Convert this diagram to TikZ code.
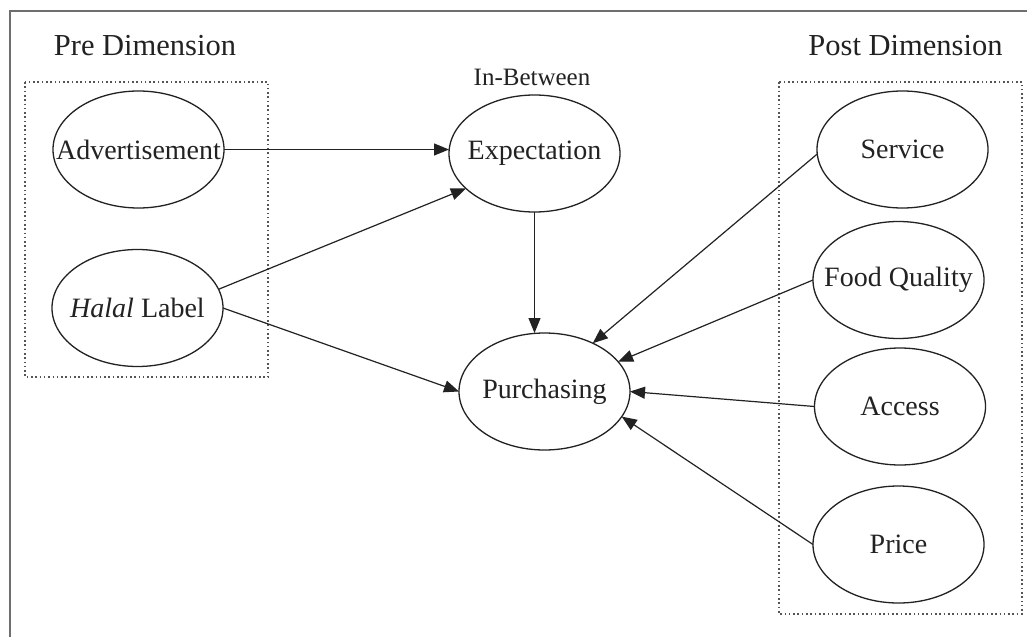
\documentclass[tikz,border=0pt]{standalone}
\usepackage{fontspec}
\setmainfont{Liberation Serif}
\usetikzlibrary{shapes.geometric,arrows.meta}
\definecolor{ink}{HTML}{222222}
\definecolor{framegray}{HTML}{6E6E6E}
\definecolor{dotgray}{HTML}{555555}
\tikzset{
  ell/.style={draw=ink, line width=1.3pt, ellipse, minimum width=171pt, minimum height=117pt, inner sep=0pt, outer sep=0pt},
  lbl/.style={font=\fontsize{28}{30}\selectfont, text=ink},
  ttl/.style={font=\fontsize{30.5}{32}\selectfont, text=ink, anchor=base, inner sep=0pt},
  grp/.style={draw=dotgray, line width=1.5pt, dash pattern=on 1.6pt off 2.7pt},
  arr/.style={draw=ink, line width=1.2pt, -{Triangle[length=15pt,width=12pt]}},
  frm/.style={draw=framegray, line width=2pt}
}
\begin{document}
\begin{tikzpicture}[x=1pt,y=-1pt]
\useasboundingbox (0,0) rectangle (1027,637);
\fill[white] (0,0) rectangle (1027,637);
\draw[frm] (9.5,637) -- (9.5,10.5) -- (1027,10.5);
% group boxes
\draw[grp] (25,82) rectangle (268,377);
\draw[grp] (779,82) rectangle (1022,614);
% titles
\node[ttl] (pretitle) at (145,55) {Pre Dimension};
\node[ttl] (posttitle) at (905.5,55) {Post Dimension};
\node[ttl, font=\fontsize{25}{27}\selectfont] (inbetween) at (532,85) {In-Between};
% nodes
\node[ell, label={[lbl]center:Advertisement}] (adv) at (138.5,149.5) {};
\node[ell, label={[lbl]center:{\textit{Halal} Label}}] (hal) at (137.5,308) {};
\node[ell, label={[lbl]center:Expectation}] (exp) at (534.5,153.5) {};
\node[ell, label={[lbl]center:Purchasing}] (pur) at (544.5,391.5) {};
\node[ell, label={[lbl]center:Service}] (ser) at (902.5,149.5) {};
\node[ell, label={[lbl]center:Food Quality}] (food) at (898.5,280) {};
\node[ell, label={[lbl]center:Access}] (acc) at (900,406.5) {};
\node[ell, label={[lbl]center:Price}] (pri) at (898.5,544.5) {};
% connectors
\draw[arr] (adv.east) -- (adv.east -| exp.west);
\draw[arr] (hal.13) -- (exp.-153);
\draw[arr] (hal.east) -- (pur.west);
\draw[arr] (exp.south) -- (exp.south |- pur.north);
\draw[arr] (ser.183) -- (pur.45);
\draw[arr] (food.west) -- (pur.22);
\draw[arr] (acc.west) -- (pur.east);
\draw[arr] (pri.west) -- (pur.-18);
\end{tikzpicture}
\end{document}
